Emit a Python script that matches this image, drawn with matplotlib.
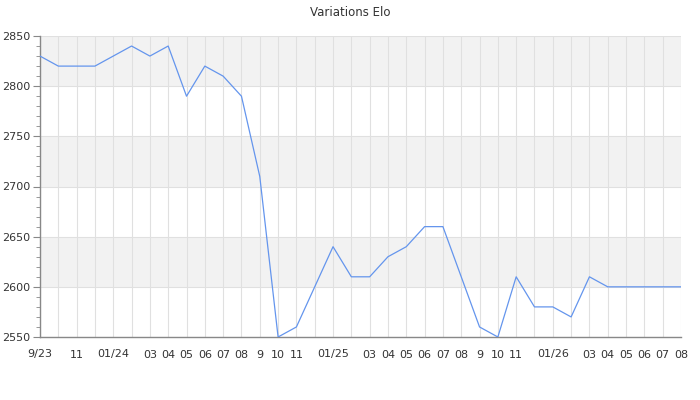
import numpy as np
import matplotlib
matplotlib.use("Agg")
import matplotlib.pyplot as plt
from matplotlib.ticker import MultipleLocator

# monthly Elo, from 09/2023 to 08/2026
elo = [2830, 2820, 2820, 2820, 2830, 2840, 2830, 2840, 2790, 2820, 2810, 2790,
       2710, 2550, 2560, 2600, 2640, 2610, 2610, 2630, 2640, 2660, 2660, 2610,
       2560, 2550, 2610, 2580, 2580, 2570, 2610, 2600, 2600, 2600, 2600, 2600]
month_labels = ["9/23", "", "11", "", "01/24", "", "03", "04", "05", "06", "07", "08",
                "9", "10", "11", "", "01/25", "", "03", "04", "05", "06", "07", "08",
                "9", "10", "11", "", "01/26", "", "03", "04", "05", "06", "07", "08"]
y_min, y_max = 2550, 2850

x = np.arange(len(elo))

fig = plt.figure(figsize=(7, 4), dpi=100)
ax = fig.add_axes([40 / 700, 1 - 337 / 400, 641 / 700, 301 / 400])

# alternating background bands
for i, lo in enumerate(range(y_min, y_max, 50)):
    if i % 2 == 1:
        ax.axhspan(lo, lo + 50, color="#f2f2f2", zorder=0, lw=0)

ax.plot(x, elo, color="#6495ed", linewidth=0.9, zorder=3)

ax.set_xlim(0, len(elo) - 1)
ax.set_ylim(y_min, y_max)
ax.set_xticks(x)
ax.set_xticklabels(month_labels)
ax.yaxis.set_major_locator(MultipleLocator(50))
ax.yaxis.set_minor_locator(MultipleLocator(10))

ax.grid(True, which="major", color="#e0e0e0", linewidth=0.8, zorder=1)
ax.set_axisbelow(True)

for s in ["top", "right"]:
    ax.spines[s].set_visible(False)
for s in ["left", "bottom"]:
    ax.spines[s].set_color("#888888")
    ax.spines[s].set_linewidth(1.0)

ax.tick_params(axis="x", length=0, pad=9, labelsize=8, labelcolor="#333333")
ax.tick_params(axis="y", which="major", length=5, color="#888888", labelsize=8,
               labelcolor="#333333", pad=2)
ax.tick_params(axis="y", which="minor", length=3, color="#888888")

fig.text(0.5, 1 - 12 / 400, "Variations Elo", ha="center", va="center",
         fontsize=8.5, color="#333333")

fig.savefig("out.png", dpi=100)
